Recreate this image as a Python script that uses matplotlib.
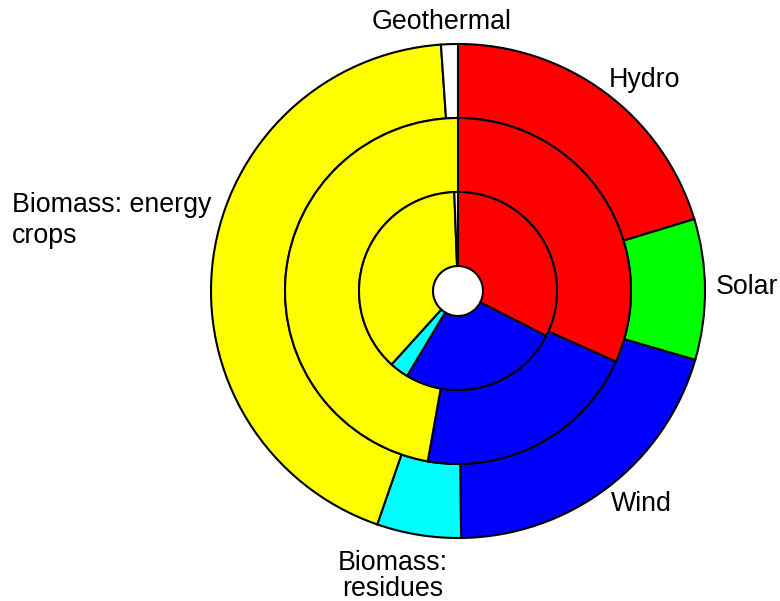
import matplotlib
matplotlib.use("Agg")
import matplotlib.pyplot as plt

# shares (%) per ring, clockwise from 12 o'clock
categories = ["Hydro", "Solar", "Wind", "Biomass: residues",
              "Biomass: energy crops", "Geothermal"]
colors = ["#FF0000", "#00FF00", "#0000FF", "#00FFFF", "#FFFF00", "#FFFFFF"]
outer_ring = [20.3, 9.2, 20.3, 5.5, 43.6, 1.1]
middle_ring = [31.7, 0.0, 21.1, 0.0, 47.2, 0.0]
inner_ring = [32.5, 0.0, 26.1, 3.1, 37.7, 0.6]

label_text = ["Hydro", "Solar", "Wind", "Biomass:\nresidues",
              "Biomass: energy\ncrops", "Geothermal"]

W, H = 780, 601
CX, CY = 458, 291          # pixel position of the centre (from top)
RING_W = 74
RADII = [247, 173, 99]      # outer edge of outer, middle, inner ring

# label placement in pixels: (x, first baseline from top, ha, line step)
label_layout = {
    "Hydro": (609, 87, "left", 0),
    "Solar": (716, 294, "left", 0),
    "Wind": (611, 511, "left", 0),
    "Biomass: residues": (393, 570, "center", 25.5),
    "Biomass: energy crops": (12, 212, "left", 31),
    "Geothermal": (372, 29, "left", 0),
}

plt.rcParams["font.family"] = ["Liberation Sans", "DejaVu Sans"]

fig = plt.figure(figsize=(W / 100, H / 100), dpi=100)
ax = fig.add_axes([0, 0, 1, 1])

for values, radius in zip([outer_ring, middle_ring, inner_ring], RADII):
    vals = [v for v in values if v > 0]
    cols = [c for v, c in zip(values, colors) if v > 0]
    ax.pie(vals, colors=cols, radius=radius, center=(CX, H - CY),
           startangle=90, counterclock=False, normalize=True,
           wedgeprops=dict(width=RING_W, edgecolor="black", linewidth=1.5))

for cat, text in zip(categories, label_text):
    x, y0, ha, step = label_layout[cat]
    for i, line in enumerate(text.split("\n")):
        ax.text(x, H - (y0 + i * step), line, ha=ha, va="baseline",
                fontsize=19.3, color="black")

ax.set_xlim(0, W)
ax.set_ylim(0, H)
ax.set_aspect("equal")
ax.axis("off")

fig.savefig("out.png", dpi=100)
